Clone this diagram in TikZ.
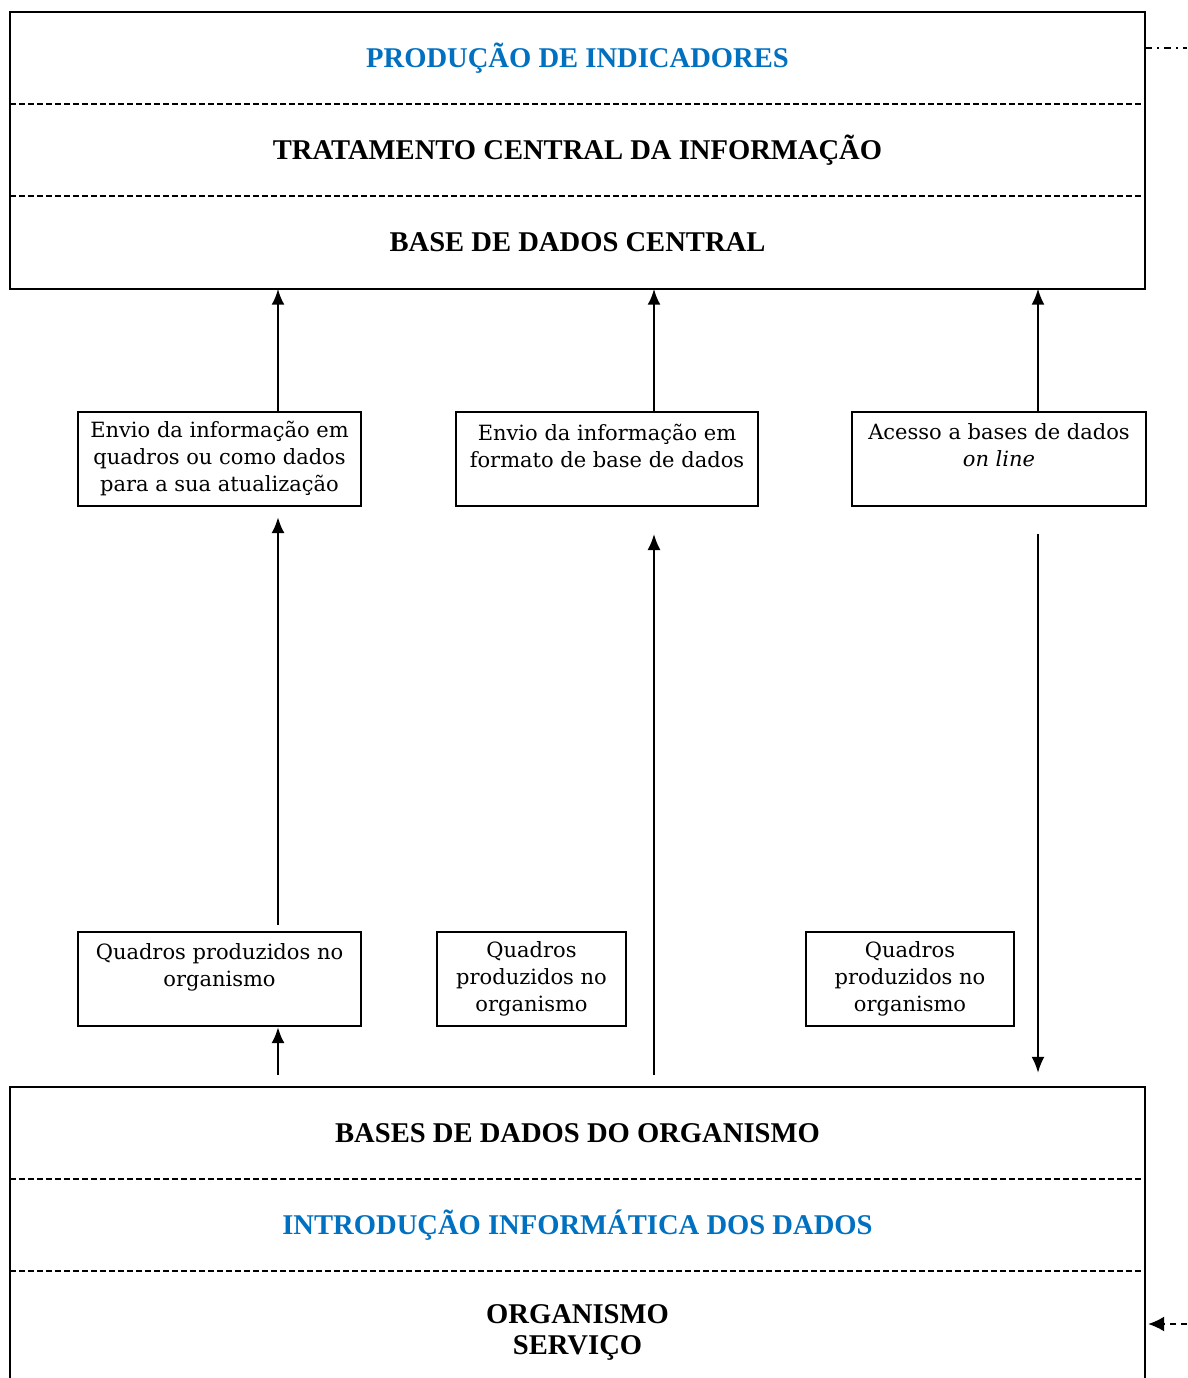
\documentclass[tikz,border=0pt]{standalone}
\usepackage{fontspec}
\setmainfont{DejaVu Serif}
\newfontfamily\headfont{Liberation Serif}
\usetikzlibrary{arrows.meta,positioning}
\definecolor{titleblue}{RGB}{0,112,192}

\begin{document}
\begin{tikzpicture}[
        x=1pt, y=-1pt,
        font=\fontsize{21}{27}\selectfont,
        >=Latex,
        band/.style={minimum width=1135pt, minimum height=92pt, inner sep=0pt, align=center, font=\headfont\bfseries\fontsize{28.6}{31}\selectfont},
        stepbox/.style={draw, line width=2pt, align=center, inner sep=0pt, minimum height=94pt, anchor=north west},
        frame/.style={line width=2.2pt},
        sep/.style={dash pattern=on 6pt off 3pt, line width=1.5pt},
        link/.style={draw=black, line width=2.6pt, -{Latex[length=16pt,width=13pt]}},
        thinlink/.style={link, line width=1.9pt}
    ]
    \useasboundingbox (0,0) rectangle (1187,1378);

    % central level
    \node[band, text=titleblue] (prod) at (577.5,58) {PRODUÇÃO DE INDICADORES};
    \node[band] (tratamento) at (577.5,150) {TRATAMENTO CENTRAL DA INFORMAÇÃO};
    \node[band] (central) at (577.5,242.5) {BASE DE DADOS CENTRAL};
    \draw[frame] (prod.north west) rectangle (central.south east);
    \draw[sep] (prod.south west) -- (prod.south east);
    \draw[sep] (tratamento.south west) -- (tratamento.south east);

    % organism level
    \node[band] (basesorg) at (577.5,1133) {BASES DE DADOS DO ORGANISMO};
    \node[band, text=titleblue] (introducao) at (577.5,1225) {INTRODUÇÃO INFORMÁTICA DOS DADOS};
    \node[band] (organismo) at (577.5,1332) {ORGANISMO\\SERVIÇO};
    \draw[frame] (basesorg.west |- organismo.south) -- (basesorg.north west) -- (basesorg.north east) -- (basesorg.east |- organismo.south);
    \draw[sep] (basesorg.south west) -- (basesorg.south east);
    \draw[sep] (introducao.south west) -- (introducao.south east);

    % transmission boxes
    \node[stepbox, minimum width=283pt] (envioquadros) at (77,411) {Envio da informação em\\quadros ou como dados\\para a sua atualização};
    \node[stepbox, minimum width=302pt] (enviobase) at (455,411) {Envio da informação em\\formato de base de dados\\\mbox{}};
    \node[stepbox, minimum width=294pt] (acesso) at (851,411) {Acesso a bases de dados\\\emph{on line}\\\mbox{}};

    % tables produced locally
    \node[stepbox, minimum width=283pt] (quadrosA) at (77,931) {Quadros produzidos no\\organismo\\\mbox{}};
    \node[stepbox, minimum width=189pt] (quadrosB) at (436,931) {Quadros\\produzidos no\\organismo};
    \node[stepbox, minimum width=208pt] (quadrosC) at (805,931) {Quadros\\produzidos no\\organismo};

    \coordinate (colA) at (278,0);
    \coordinate (colB) at (654,0);
    \coordinate (colC) at (1038,0);

    \draw[link] (envioquadros.north -| colA) -- (central.south -| colA);
    \draw[link] (enviobase.north -| colB) -- (central.south -| colB);
    \draw[thinlink] (acesso.north -| colC) -- (central.south -| colC);

    \draw[link, shorten <=6pt, shorten >=10pt] (quadrosA.north -| colA) -- (envioquadros.south -| colA);
    \draw[thinlink, shorten <=12pt, shorten >=27pt] (basesorg.north -| colB) -- (enviobase.south -| colB);
    \draw[thinlink, shorten <=27pt, shorten >=14pt] (acesso.south -| colC) -- (basesorg.north -| colC);
    \draw[link, shorten <=12pt] (basesorg.north -| colA) -- (quadrosA.south -| colA);

    % links leaving the page
    \coordinate (outtop) at (1187,48);
    \coordinate (inbottom) at (1187,1324);
    \draw[line width=1.5pt, dash pattern=on 7pt off 5pt on 2pt off 5pt] (prod.east |- outtop) -- (outtop);
    \draw[line width=1.5pt, dash pattern=on 6pt off 5pt, -{Latex[length=16pt,width=15pt]}, shorten >=3pt] (inbottom) -- (organismo.east |- inbottom);
\end{tikzpicture}
\end{document}
